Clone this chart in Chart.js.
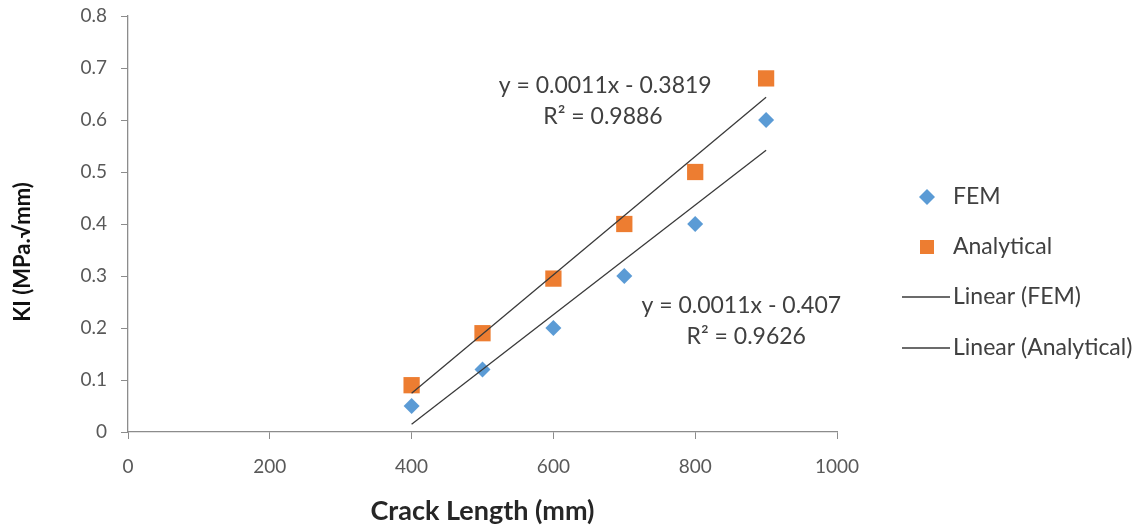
<!DOCTYPE html>
<html>
<head>
<meta charset="utf-8">
<script src="https://cdn.jsdelivr.net/npm/chart.js@4/dist/chart.umd.min.js"></script>
<style>
  html, body { margin: 0; background: #fff; }
  #wrap { width: 1143px; height: 527px; position: relative; }
</style>
</head>
<body>
<div id="wrap"><canvas id="kiChart"></canvas></div>
<script>
// Stress intensity factor against crack length
const crackLength = [400, 500, 600, 700, 800, 900];
const femKI = [0.05, 0.12, 0.2, 0.3, 0.4, 0.6];
const analyticalKI = [0.09, 0.19, 0.295, 0.4, 0.5, 0.68];
const xTickValues = [0, 200, 400, 600, 800, 1000];
const yTickValues = [0, 0.1, 0.2, 0.3, 0.4, 0.5, 0.6, 0.7, 0.8];
const seriesNames = ['FEM', 'Analytical', 'Linear (FEM)', 'Linear (Analytical)'];
const fitLabels = [
  ['y = 0.0011x - 0.407', 'R² = 0.9626'],
  ['y = 0.0011x - 0.3819', 'R² = 0.9886']
];

const BLUE = '#5B9BD5';
const ORANGE = '#ED7D31';
const TREND = '#3a3a3a';
const AXIS = '#8c8c8c';
const TEXT = '#404040';
const FONT = 'Lato, "Open Sans", sans-serif';

// least squares line, drawn across the data range like a spreadsheet trendline
function linearFit(xs, ys) {
  const n = xs.length;
  const mx = xs.reduce((a, b) => a + b, 0) / n;
  const my = ys.reduce((a, b) => a + b, 0) / n;
  let sxy = 0, sxx = 0;
  for (let i = 0; i < n; i++) {
    sxy += (xs[i] - mx) * (ys[i] - my);
    sxx += (xs[i] - mx) * (xs[i] - mx);
  }
  const slope = sxy / sxx;
  const icpt = my - slope * mx;
  const x0 = Math.min(...xs), x1 = Math.max(...xs);
  return [{ x: x0, y: slope * x0 + icpt }, { x: x1, y: slope * x1 + icpt }];
}

const toPoints = (xs, ys) => xs.map((x, i) => ({ x: x, y: ys[i] }));

// y title, equation labels and legend are painted after the chart
const extrasPlugin = {
  id: 'extras',
  afterDraw(chart) {
    const ctx = chart.ctx;
    const xs = chart.scales.x, ys = chart.scales.y;
    ctx.save();

    // y axis title
    ctx.save();
    ctx.translate(23, 252);
    ctx.rotate(-Math.PI / 2);
    ctx.fillStyle = '#111';
    ctx.font = 'bold 22px ' + FONT;
    ctx.textAlign = 'center';
    ctx.textBaseline = 'middle';
    ctx.fillText('KI (MPa.√mm)', 0, 0);
    ctx.restore();

    ctx.fillStyle = TEXT;
    ctx.font = '23px ' + FONT;
    ctx.textAlign = 'center';
    ctx.textBaseline = 'middle';
    // FEM fit label (lower line)
    ctx.fillText(fitLabels[0][0], xs.getPixelForValue(865), ys.getPixelForValue(0.244));
    ctx.fillText(fitLabels[0][1], xs.getPixelForValue(872), ys.getPixelForValue(0.183));
    // Analytical fit label (upper line)
    ctx.fillText(fitLabels[1][0], xs.getPixelForValue(673), ys.getPixelForValue(0.667));
    ctx.fillText(fitLabels[1][1], xs.getPixelForValue(670), ys.getPixelForValue(0.607));

    // legend
    const mx = chart.chartArea.right + 90;
    const tx = chart.chartArea.right + 116;
    const rows = [197, 247, 297, 348];
    ctx.textAlign = 'left';
    seriesNames.forEach((name, i) => {
      const y = rows[i];
      if (i === 0) {
        ctx.fillStyle = BLUE;
        ctx.beginPath();
        ctx.moveTo(mx, y - 8); ctx.lineTo(mx + 8, y);
        ctx.lineTo(mx, y + 8); ctx.lineTo(mx - 8, y);
        ctx.closePath(); ctx.fill();
      } else if (i === 1) {
        ctx.fillStyle = ORANGE;
        ctx.fillRect(mx - 7, y - 7, 14, 14);
      } else {
        ctx.strokeStyle = TREND;
        ctx.lineWidth = 1.3;
        ctx.beginPath();
        ctx.moveTo(mx - 25, y); ctx.lineTo(mx + 23, y);
        ctx.stroke();
      }
      ctx.fillStyle = TEXT;
      ctx.fillText(name, tx, y);
    });
    ctx.restore();
  }
};

new Chart(document.getElementById('kiChart'), {
  type: 'scatter',
  data: {
    datasets: [
      {
        label: seriesNames[0],
        data: toPoints(crackLength, femKI),
        pointStyle: 'rectRot',
        pointRadius: 8,
        pointHoverRadius: 8,
        backgroundColor: BLUE,
        borderColor: BLUE,
        borderWidth: 0,
        order: 2
      },
      {
        label: seriesNames[1],
        data: toPoints(crackLength, analyticalKI),
        pointStyle: 'rect',
        pointRadius: 11.5,
        pointHoverRadius: 11.5,
        backgroundColor: ORANGE,
        borderColor: ORANGE,
        borderWidth: 0,
        order: 2
      },
      {
        label: seriesNames[2],
        data: linearFit(crackLength, femKI),
        showLine: true,
        borderColor: TREND,
        borderWidth: 1.3,
        pointRadius: 0,
        order: 1
      },
      {
        label: seriesNames[3],
        data: linearFit(crackLength, analyticalKI),
        showLine: true,
        borderColor: TREND,
        borderWidth: 1.3,
        pointRadius: 0,
        order: 1
      }
    ]
  },
  options: {
    responsive: true,
    maintainAspectRatio: false,
    animation: false,
    layout: { padding: { top: 0, right: 306, bottom: 0, left: 0 } },
    plugins: {
      legend: { display: false },
      tooltip: { enabled: false }
    },
    scales: {
      x: {
        type: 'linear',
        min: 0,
        max: 1000,
        afterBuildTicks: (s) => { s.ticks = xTickValues.map(v => ({ value: v })); },
        afterFit: (s) => { s.height = 95; },
        ticks: {
          color: '#595959',
          font: { family: FONT, size: 19 },
          padding: 16,
          callback: (v) => String(v)
        },
        grid: { drawOnChartArea: false, tickLength: 7, color: AXIS },
        border: { color: AXIS, width: 1.3 },
        title: {
          display: true,
          text: 'Crack Length (mm)',
          color: '#262626',
          font: { family: FONT, size: 27, weight: 'bold' },
          padding: { top: 0, bottom: 0 }
        }
      },
      y: {
        type: 'linear',
        min: 0,
        max: 0.8,
        afterBuildTicks: (s) => { s.ticks = yTickValues.map(v => ({ value: v })); },
        afterFit: (s) => { s.width = 128; s.paddingTop = 16; s.paddingBottom = 0; },
        ticks: { color: '#595959', font: { family: FONT, size: 19 }, padding: 14 },
        grid: { drawOnChartArea: false, tickLength: 7, color: AXIS },
        border: { color: AXIS, width: 1.3 },
        title: { display: false }
      }
    }
  },
  plugins: [extrasPlugin]
});
</script>
</body>
</html>
